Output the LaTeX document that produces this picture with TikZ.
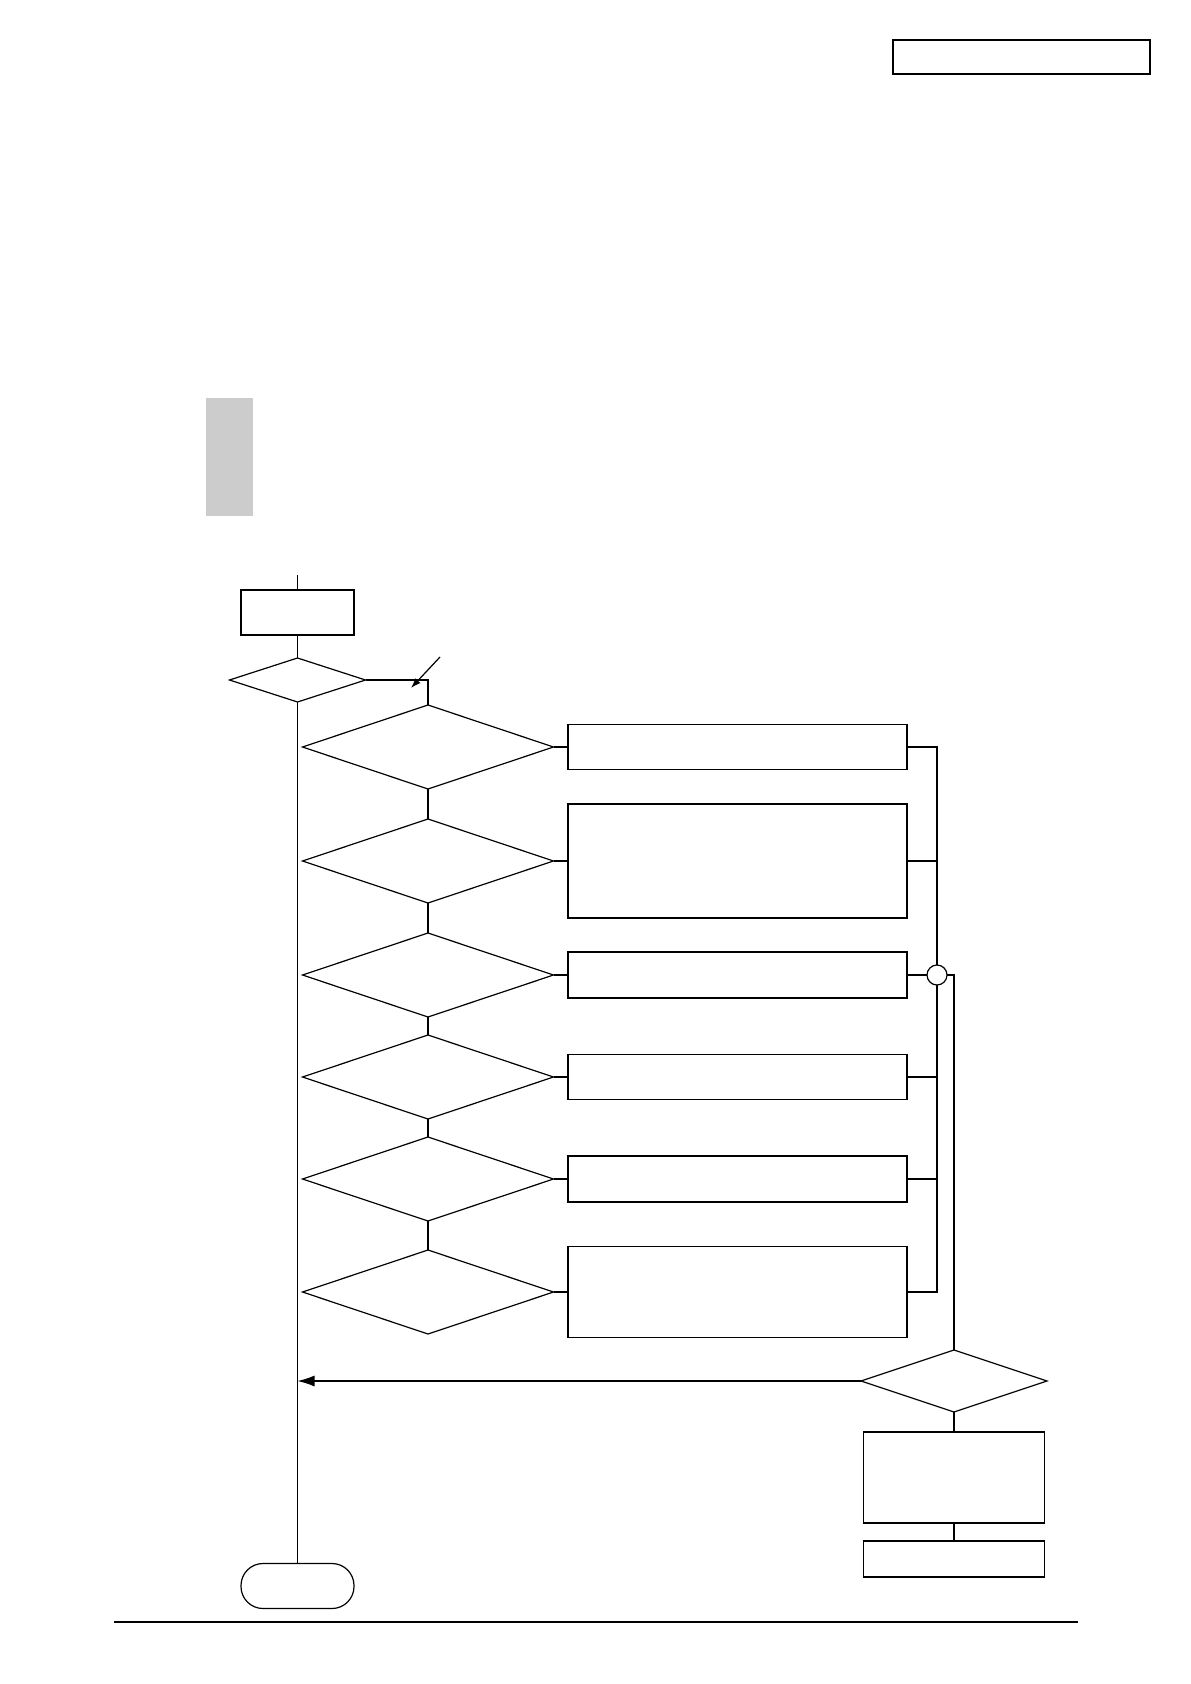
\documentclass[tikz,border=0pt]{standalone}
\usetikzlibrary{shapes.geometric,arrows.meta}

\begin{document}
\begin{tikzpicture}[x=0.5pt,y=0.5pt,yscale=-1,xscale=1,
  line width=0.6pt,
  proc/.style={draw,rectangle,line width=0.8pt,inner sep=0pt,outer sep=0pt,minimum width=#1},
  proc/.default=169.5pt,
  dec/.style={draw,diamond,inner sep=0pt,outer sep=0pt,minimum width=125.5pt,minimum height=42pt},
  term/.style={draw,rectangle,rounded corners=11pt,inner sep=0pt,outer sep=0pt,minimum width=56.5pt,minimum height=22.5pt},
  flow/.style={-{Latex[length=8.5pt,width=5.5pt]}},
  note/.style={-{Latex[length=5pt,width=3.5pt]}}]
\useasboundingbox (0,0) rectangle (1190,1684);

%Header box
\node [proc=128.5pt,line width=1pt,minimum height=17pt] (hdr) at (1021.5,57) {};
%Side tab
\node [rectangle,fill=gray!40,inner sep=0pt,minimum width=23.5pt,minimum height=59pt] (tab) at (229.5,457) {};

%Flowchart: Process
\coordinate (in) at (297.5,575);
\node [proc=56.5pt,minimum height=22.5pt] (start) at (297.5,612.5) {};
%Flowchart: Decision
\node [dec,minimum width=68pt,minimum height=22pt] (d0) at (297.5,680) {};

%Flowchart: Decision column
\node [dec] (d1) at (428,747) {};
\node [dec] (d2) at (428,861) {};
\node [dec] (d3) at (428,975) {};
\node [dec] (d4) at (428,1077) {};
\node [dec] (d5) at (428,1179) {};
\node [dec] (d6) at (428,1292) {};

%Flowchart: Process column
\node [proc,minimum height=22.5pt] (b1) at (737.5,747) {};
\node [proc,minimum height=57pt] (b2) at (737.5,861) {};
\node [proc,minimum height=23pt] (b3) at (737.5,975) {};
\node [proc,minimum height=22.5pt] (b4) at (737.5,1077) {};
\node [proc,minimum height=23pt] (b5) at (737.5,1179) {};
\node [proc,minimum height=45.5pt] (b6) at (737.5,1292) {};

%Connector: junction
\node [draw,circle,inner sep=0pt,outer sep=0pt,minimum size=10pt] (jn) at (937,975) {};

%Flowchart: Decision
\node [dec,minimum width=93pt,minimum height=31pt] (d7) at (954,1381) {};
%Flowchart: Process
\node [proc=90.5pt,minimum height=45.5pt] (b7) at (954,1477.5) {};
\node [proc=90.5pt,minimum height=18pt] (b8) at (954,1559) {};
%Flowchart: Terminator
\node [term] (end) at (297.5,1586) {};

%Straight Lines
\draw (in) -- (start.north);
\draw (start) -- (d0);
\draw (d0.south) -- (end.north);
\draw (d0.east) -| (d1.north);
\coordinate (nt) at (440,657);
\coordinate (nh) at (411,688);
\draw [note] (nt) -- (nh);

\foreach \i/\j in {1/2,2/3,3/4,4/5,5/6}
  \draw (d\i.south) -- (d\j.north);
\foreach \i in {1,...,6}
  \draw (d\i.east) -- (b\i.west);

\draw (b1.east) -| (jn.north);
\draw (b6.east) -| (jn.south);
\draw (b3.east) -- (jn.west);
\foreach \i in {2,4,5}
  \draw (b\i.east) -- (b\i.east -| jn);

\draw (jn.east) -| (d7.north);
\draw [flow] (d7.west) -- (d7.west -| d0.south);
\draw (d7.south) -- (b7.north);
\draw (b7.south) -- (b8.north);

%Page rule
\coordinate (rl) at (114,1622);
\coordinate (rr) at (1078,1622);
\draw [line width=0.8pt] (rl) -- (rr);

\end{tikzpicture}
\end{document}
